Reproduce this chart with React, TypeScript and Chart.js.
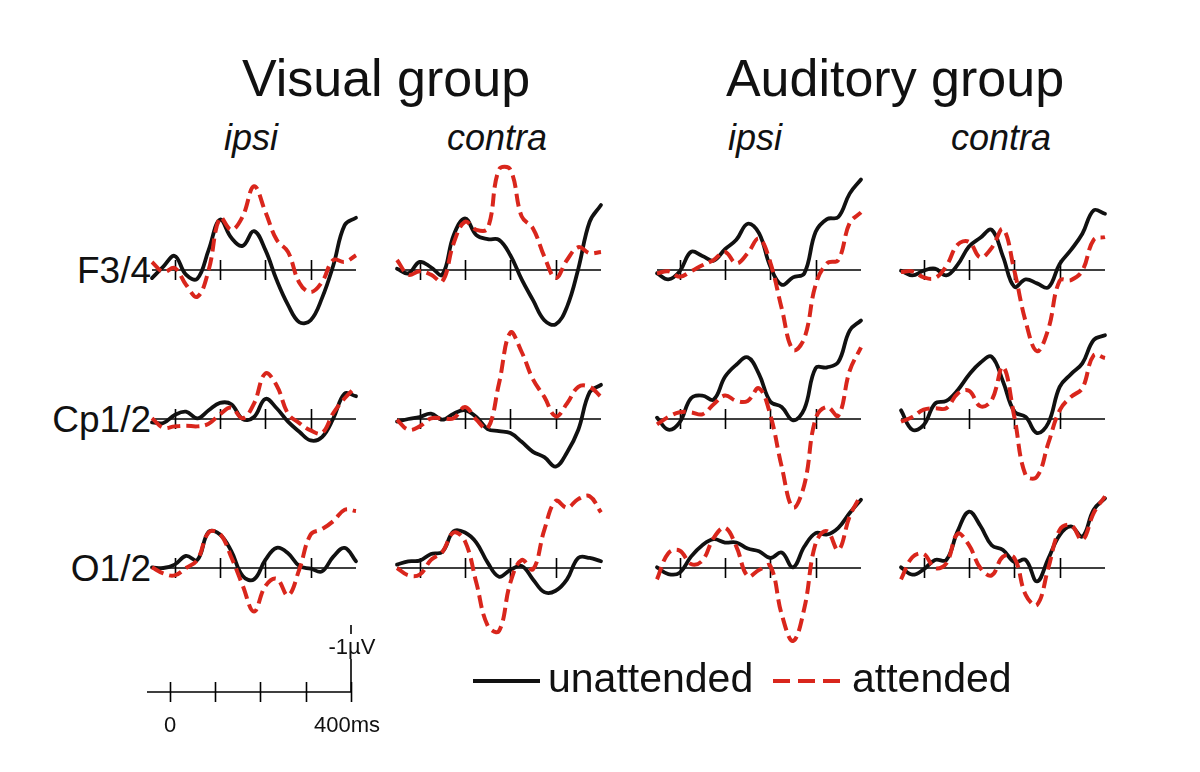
import React, { useEffect, useRef } from 'react';
import { Chart, registerables } from 'chart.js';

Chart.register(...registerables);

// ---------------- data ----------------
const TIMES_MS = [-50, -25, 0, 25, 50, 75, 100, 125, 150, 175, 200, 225, 250, 275, 300, 325, 350, 375, 400];
const PANEL_TICKS_MS = [0, 100, 200, 300];
const SCALE_TICKS_MS = [0, 100, 200, 300, 400];

const GROUPS = ['Visual group', 'Auditory group'];
const SIDES = ['ipsi', 'contra', 'ipsi', 'contra'];
const SITES = ['F3/4', 'Cp1/2', 'O1/2'];
const SERIES_NAMES = ['unattended', 'attended'];
const SCALE_LABELS = ['0', '400ms', '-1\u00B5V'];

// values in µV (negative plotted upward)
const VIS_IPSI_F34_UN = [0.12, -0.05, -0.21, 0.07, 0.13, -0.3, -0.75, -0.48, -0.36, -0.58, -0.3, 0.15, 0.52, 0.78, 0.75, 0.42, -0.07, -0.67, -0.78];
const VIS_IPSI_F34_AT = [-0.12, 0.03, -0.03, 0.22, 0.4, 0.0, -0.78, -0.6, -0.8, -1.25, -0.87, -0.45, -0.27, 0.19, 0.33, 0.18, -0.15, -0.12, -0.22];
const VIS_CONTRA_F34_UN = [-0.02, 0.05, -0.12, -0.04, 0.07, -0.52, -0.77, -0.52, -0.46, -0.45, -0.22, 0.14, 0.45, 0.75, 0.81, 0.55, -0.02, -0.72, -0.97];
const VIS_CONTRA_F34_AT = [-0.15, 0.07, 0.02, 0.07, 0.17, -0.4, -0.72, -0.6, -0.62, -1.5, -1.5, -0.8, -0.62, -0.2, 0.12, -0.15, -0.34, -0.25, -0.27];
const AUD_IPSI_F34_UN = [0.05, 0.14, 0.02, -0.27, -0.21, -0.14, -0.31, -0.45, -0.69, -0.55, -0.05, 0.22, 0.11, 0.05, -0.57, -0.76, -0.79, -1.14, -1.35];
const AUD_IPSI_F34_AT = [0.05, 0.02, 0.1, 0.02, -0.07, -0.15, -0.27, -0.1, -0.25, -0.47, -0.11, 0.57, 1.19, 1.02, 0.22, -0.1, -0.15, -0.7, -0.86];
const AUD_CONTRA_F34_UN = [0.01, 0.08, 0.01, -0.02, 0.08, -0.08, -0.35, -0.48, -0.6, -0.2, 0.25, 0.14, 0.2, 0.26, -0.09, -0.3, -0.54, -0.89, -0.84];
const AUD_CONTRA_F34_AT = [0.03, 0.02, 0.11, 0.12, -0.06, -0.38, -0.42, -0.19, -0.33, -0.61, 0.01, 0.77, 1.21, 0.88, 0.16, 0.15, 0.01, -0.45, -0.49];

const VIS_IPSI_CP_UN = [0.05, 0.06, -0.06, -0.11, -0.01, -0.13, -0.24, -0.22, 0.0, -0.03, -0.3, -0.16, 0.04, 0.19, 0.32, 0.27, -0.01, -0.38, -0.34];
const VIS_IPSI_CP_AT = [-0.01, 0.13, 0.11, 0.1, 0.11, 0.07, -0.07, -0.17, -0.01, -0.23, -0.68, -0.5, -0.08, 0.06, 0.17, 0.21, -0.09, -0.31, -0.48];
const VIS_CONTRA_CP_UN = [0.04, 0.0, -0.03, -0.08, 0.01, -0.08, -0.13, -0.03, 0.15, 0.18, 0.21, 0.34, 0.49, 0.57, 0.71, 0.5, 0.16, -0.4, -0.51];
const VIS_CONTRA_CP_AT = [0.01, 0.16, 0.11, -0.01, -0.01, -0.01, -0.18, 0.01, 0.14, -0.53, -1.29, -1.0, -0.59, -0.33, -0.04, -0.23, -0.48, -0.48, -0.33];
const AUD_IPSI_CP_UN = [-0.02, 0.16, 0.05, -0.31, -0.35, -0.29, -0.63, -0.81, -0.92, -0.67, -0.26, -0.18, 0.02, -0.15, -0.76, -0.77, -0.85, -1.32, -1.47];
const AUD_IPSI_CP_AT = [0.08, -0.03, -0.1, -0.1, -0.07, -0.22, -0.35, -0.27, -0.27, -0.46, -0.06, 0.71, 1.32, 0.98, -0.01, -0.18, -0.05, -0.72, -1.07];
const AUD_CONTRA_CP_UN = [-0.13, 0.16, 0.09, -0.23, -0.27, -0.43, -0.66, -0.84, -0.93, -0.56, -0.11, -0.03, 0.21, 0.06, -0.48, -0.67, -0.83, -1.18, -1.25];
const AUD_CONTRA_CP_AT = [0.04, -0.03, -0.14, -0.16, -0.16, -0.38, -0.42, -0.19, -0.28, -0.78, -0.03, 0.84, 0.86, 0.36, -0.13, -0.33, -0.46, -0.95, -0.91];

const VIS_IPSI_O_UN = [-0.01, 0.0, -0.05, -0.18, -0.12, -0.54, -0.5, -0.25, 0.12, 0.17, -0.12, -0.3, -0.22, -0.03, 0.01, 0.05, -0.17, -0.3, -0.1];
const VIS_IPSI_O_AT = [-0.01, 0.08, 0.11, 0.0, -0.12, -0.53, -0.51, -0.16, 0.26, 0.65, 0.27, 0.16, 0.41, 0.02, -0.5, -0.58, -0.7, -0.87, -0.85];
const VIS_CONTRA_O_UN = [-0.05, -0.1, -0.11, -0.21, -0.24, -0.55, -0.53, -0.38, -0.08, 0.13, 0.03, -0.03, 0.17, 0.36, 0.34, 0.17, -0.15, -0.15, -0.1];
const VIS_CONTRA_O_AT = [0.0, 0.11, 0.1, -0.12, -0.24, -0.53, -0.4, 0.22, 0.86, 0.94, 0.22, -0.12, 0.02, -0.57, -1.0, -0.9, -1.03, -1.07, -0.83];
const AUD_IPSI_O_UN = [-0.01, 0.09, 0.07, -0.17, -0.34, -0.43, -0.38, -0.38, -0.29, -0.25, -0.15, -0.23, -0.01, -0.32, -0.52, -0.5, -0.6, -0.82, -1.02];
const AUD_IPSI_O_AT = [0.17, -0.22, -0.26, -0.06, -0.11, -0.45, -0.6, -0.32, 0.12, 0.03, -0.03, 0.69, 1.09, 0.6, -0.37, -0.55, -0.27, -0.77, -1.09];
const AUD_CONTRA_O_UN = [-0.01, 0.1, 0.02, -0.12, -0.12, -0.55, -0.84, -0.63, -0.34, -0.27, -0.09, -0.12, 0.2, -0.14, -0.49, -0.62, -0.47, -0.87, -1.04];
const AUD_CONTRA_O_AT = [0.17, -0.16, -0.21, 0.0, -0.07, -0.51, -0.34, 0.0, 0.11, -0.17, -0.15, 0.4, 0.55, 0.0, -0.57, -0.64, -0.42, -0.82, -1.07];

const SCALE_BAR_X_MS = [400, 400, 415];
const SCALE_BAR_Y_UV = [0, -1, -1];

// ---------------- layout / style ----------------
const FONT = "'Liberation Sans', Arial, Helvetica, sans-serif";
const RED = '#d9261c';
const BLACK = '#111111';
const MS_MIN = -50;
const MS_MAX = 400;
const UV_MIN = -2;
const UV_MAX = 2;
const PAD = 10;
const AREA_W = 204; // 450 ms
const AREA_H = 268; // 4 µV -> 67 px / µV
const CANVAS_W = AREA_W + 2 * PAD;
const CANVAS_H = AREA_H + 2 * PAD;
const COL_ZERO_X = [175, 420, 680, 924];
const ROW_BASE_Y = [270, 419, 568];

const PANELS = [
  { row: 0, col: 0, un: VIS_IPSI_F34_UN, at: VIS_IPSI_F34_AT },
  { row: 0, col: 1, un: VIS_CONTRA_F34_UN, at: VIS_CONTRA_F34_AT },
  { row: 0, col: 2, un: AUD_IPSI_F34_UN, at: AUD_IPSI_F34_AT },
  { row: 0, col: 3, un: AUD_CONTRA_F34_UN, at: AUD_CONTRA_F34_AT },
  { row: 1, col: 0, un: VIS_IPSI_CP_UN, at: VIS_IPSI_CP_AT },
  { row: 1, col: 1, un: VIS_CONTRA_CP_UN, at: VIS_CONTRA_CP_AT },
  { row: 1, col: 2, un: AUD_IPSI_CP_UN, at: AUD_IPSI_CP_AT },
  { row: 1, col: 3, un: AUD_CONTRA_CP_UN, at: AUD_CONTRA_CP_AT },
  { row: 2, col: 0, un: VIS_IPSI_O_UN, at: VIS_IPSI_O_AT },
  { row: 2, col: 1, un: VIS_CONTRA_O_UN, at: VIS_CONTRA_O_AT },
  { row: 2, col: 2, un: AUD_IPSI_O_UN, at: AUD_IPSI_O_AT },
  { row: 2, col: 3, un: AUD_CONTRA_O_UN, at: AUD_CONTRA_O_AT },
];

const zeroAxisPlugin = {
  id: 'zeroAxis',
  beforeDatasetsDraw(chart: any, _args: any, opts: any) {
    const { ctx, scales } = chart;
    const x = scales.x;
    const y = scales.y;
    const y0 = y.getPixelForValue(0);
    ctx.save();
    ctx.strokeStyle = '#000';
    ctx.lineWidth = 1.6;
    ctx.beginPath();
    ctx.moveTo(x.getPixelForValue(MS_MIN), y0);
    ctx.lineTo(x.getPixelForValue(MS_MAX), y0);
    for (const t of opts.ticks || []) {
      const px = Math.round(x.getPixelForValue(t)) + 0.5;
      ctx.moveTo(px, y0 - 10);
      ctx.lineTo(px, y0 + 10);
    }
    ctx.stroke();
    ctx.restore();
  },
};

function baseOptions(ticks: number[]) {
  return {
    animation: false as const,
    responsive: false,
    devicePixelRatio: 1,
    events: [] as any[],
    layout: { padding: PAD },
    plugins: {
      legend: { display: false },
      tooltip: { enabled: false },
      zeroAxis: { ticks },
    },
    scales: {
      x: { type: 'linear' as const, min: MS_MIN, max: MS_MAX, display: false },
      y: { type: 'linear' as const, min: UV_MIN, max: UV_MAX, reverse: true, display: false },
    },
  };
}

function ErpPanel({ zeroX, baseY, un, at }: { zeroX: number; baseY: number; un: number[]; at: number[] }) {
  const ref = useRef<HTMLCanvasElement>(null);
  useEffect(() => {
    const chart = new Chart(ref.current as HTMLCanvasElement, {
      type: 'line',
      data: {
        datasets: [
          {
            label: SERIES_NAMES[1],
            data: TIMES_MS.map((t, i) => ({ x: t, y: at[i] })),
            borderColor: RED,
            borderWidth: 4,
            borderDash: [13, 6],
            borderCapStyle: 'butt',
            borderJoinStyle: 'round',
            pointRadius: 0,
            tension: 0.4,
            fill: false,
            clip: false as any,
          },
          {
            label: SERIES_NAMES[0],
            data: TIMES_MS.map((t, i) => ({ x: t, y: un[i] })),
            borderColor: BLACK,
            borderWidth: 3.8,
            borderCapStyle: 'round',
            borderJoinStyle: 'round',
            pointRadius: 0,
            tension: 0.4,
            fill: false,
            clip: false as any,
          },
        ],
      },
      options: baseOptions(PANEL_TICKS_MS) as any,
      plugins: [zeroAxisPlugin],
    });
    return () => chart.destroy();
  }, []);
  const left = Math.round(zeroX - (0 - MS_MIN) * (AREA_W / (MS_MAX - MS_MIN))) - PAD;
  const top = baseY - AREA_H / 2 - PAD;
  return (
    <canvas
      ref={ref}
      width={CANVAS_W}
      height={CANVAS_H}
      style={{ position: 'absolute', left, top, width: CANVAS_W, height: CANVAS_H }}
    />
  );
}

function ScaleBar({ zeroX, baseY }: { zeroX: number; baseY: number }) {
  const ref = useRef<HTMLCanvasElement>(null);
  useEffect(() => {
    const chart = new Chart(ref.current as HTMLCanvasElement, {
      type: 'line',
      data: {
        datasets: [
          {
            label: 'scale',
            data: SCALE_BAR_X_MS.map((t, i) => ({ x: t, y: SCALE_BAR_Y_UV[i] })),
            borderColor: '#000',
            borderWidth: 1.6,
            pointRadius: 0,
            tension: 0,
            fill: false,
            clip: false as any,
          },
        ],
      },
      options: baseOptions(SCALE_TICKS_MS) as any,
      plugins: [zeroAxisPlugin],
    });
    return () => chart.destroy();
  }, []);
  const left = Math.round(zeroX - (0 - MS_MIN) * (AREA_W / (MS_MAX - MS_MIN))) - PAD;
  const top = baseY - AREA_H / 2 - PAD;
  return (
    <canvas
      ref={ref}
      width={CANVAS_W}
      height={CANVAS_H}
      style={{ position: 'absolute', left, top, width: CANVAS_W, height: CANVAS_H }}
    />
  );
}

function Label({
  text, x, baseline, size, align = 'center', italic = false, bg = false,
}: { text: string; x: number; baseline: number; size: number; align?: 'left' | 'center' | 'right'; italic?: boolean; bg?: boolean }) {
  const W = 500;
  const left = align === 'left' ? x : align === 'right' ? x - W : x - W / 2;
  const top = baseline - 0.8465 * size;
  return (
    <div
      style={{
        position: 'absolute', left, top, width: W, textAlign: align,
        fontFamily: FONT, fontSize: size, lineHeight: `${size}px`,
        fontStyle: italic ? 'italic' : 'normal', color: '#111', whiteSpace: 'nowrap',
        pointerEvents: 'none',
      }}
    >
      <span style={{ background: bg ? '#fff' : 'transparent', padding: bg ? '0 1px' : 0 }}>{text}</span>
    </div>
  );
}

export default function App() {
  return (
    <div style={{ position: 'fixed', left: 0, top: 0, width: 1200, height: 772, background: '#fff', overflow: 'hidden' }}>
      <Label text={GROUPS[0]} x={386} baseline={96} size={52} />
      <Label text={GROUPS[1]} x={895} baseline={96} size={52} />
      {SIDES.map((s, i) => (
        <Label key={'side' + i} text={s} x={[251, 497, 755, 1001][i]} baseline={150} size={36} italic />
      ))}
      {SITES.map((s, i) => (
        <Label key={'site' + i} text={s} x={151} baseline={ROW_BASE_Y[i] + 13} size={37} align="right" />
      ))}
      {PANELS.map((p, i) => (
        <ErpPanel key={i} zeroX={COL_ZERO_X[p.col]} baseY={ROW_BASE_Y[p.row]} un={p.un} at={p.at} />
      ))}
      <ScaleBar zeroX={170} baseY={692} />
      <Label text={SCALE_LABELS[2]} x={352} baseline={655} size={22} bg />
      <Label text={SCALE_LABELS[0]} x={170} baseline={733} size={22} />
      <Label text={SCALE_LABELS[1]} x={347} baseline={733} size={22} />
      <svg width={1200} height={772} style={{ position: 'absolute', left: 0, top: 0, pointerEvents: 'none' }}>
        <line x1={473} y1={681} x2={540} y2={681} stroke={BLACK} strokeWidth={4} />
        <line x1={773} y1={681} x2={840} y2={681} stroke={RED} strokeWidth={4} strokeDasharray="17 8" />
      </svg>
      <Label text={SERIES_NAMES[0]} x={548} baseline={693} size={41} align="left" />
      <Label text={SERIES_NAMES[1]} x={852} baseline={693} size={41} align="left" />
    </div>
  );
}
